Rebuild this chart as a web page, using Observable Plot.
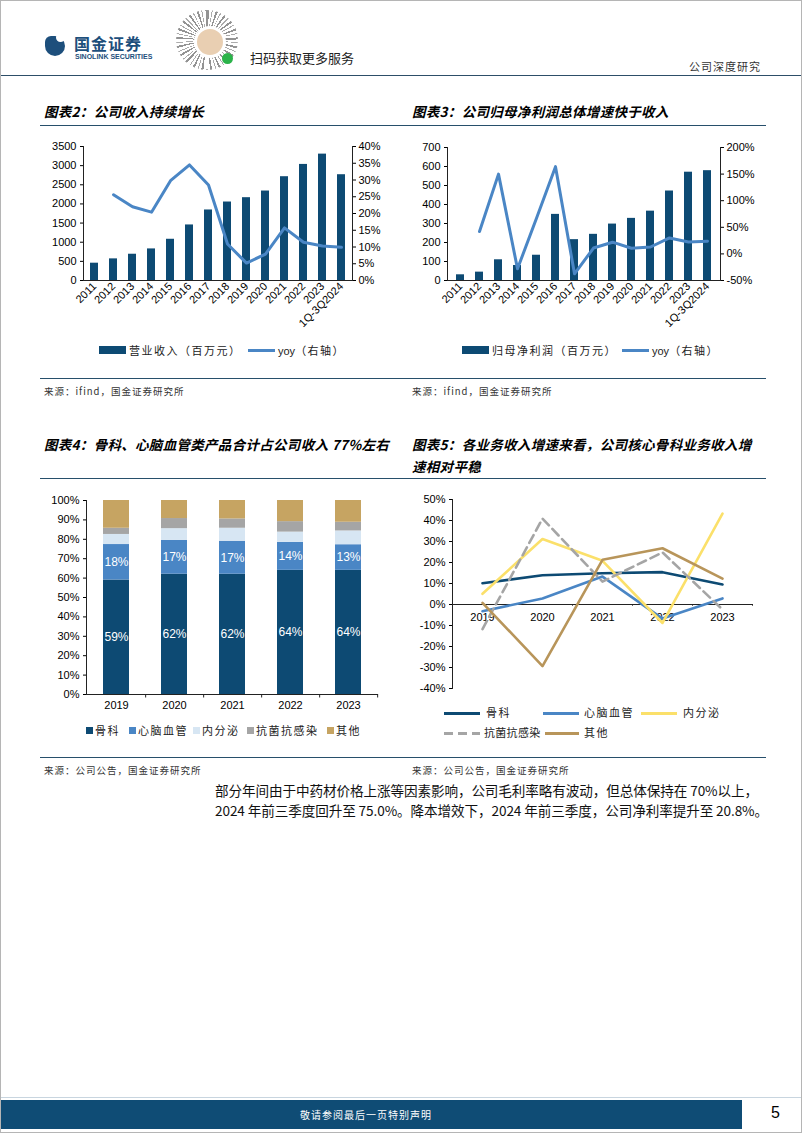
<!DOCTYPE html>
<html><head><meta charset="utf-8">
<script src="https://cdn.jsdelivr.net/npm/d3@7"></script>
<script src="https://cdn.jsdelivr.net/npm/@observablehq/plot@0.6"></script>
<style>
html,body{margin:0;padding:0}
body{width:802px;height:1133px;position:relative;background:#fff;font-family:"Noto Sans CJK SC","Noto Sans",sans-serif;overflow:hidden;color:#000}
.a{position:absolute;white-space:nowrap}
.title{font-size:13.5px;font-weight:bold;font-style:italic;letter-spacing:0.3px}
.src{font-size:9.5px;color:#333;letter-spacing:1px}
.hl{position:absolute;height:0;border-top:1.5px solid #274f6b}
.leg{font-size:11px;letter-spacing:1.5px;color:#222}
.sw{position:absolute}
svg{overflow:visible}
</style></head><body>
<div class="a" style="left:0;top:0;width:800px;height:1131px;border:1px solid #b5b5b5"></div>
<!-- header -->
<div class="a" style="left:45px;top:36px;width:20px;height:20px;border-radius:6px 10px 10px 10px;background:#1d4f7c"></div>
<div class="a" style="left:56px;top:33px;width:9px;height:9px;border-radius:50%;background:#fff"></div>
<div class="a" style="left:74px;top:35px;font-size:16px;line-height:16px;font-weight:bold;color:#1d4f7c;letter-spacing:1px">国金证券</div>
<div class="a" style="left:75px;top:53px;font-size:7px;line-height:7px;font-weight:bold;color:#1d4f7c;font-family:'Liberation Sans',Arial">SINOLINK SECURITIES</div>
<div class="a" style="left:176px;top:10px;width:62px;height:60px;border-radius:50%;background:repeating-conic-gradient(#666 0 4deg,#fff 4deg 9deg,#888 9deg 11deg,#fff 11deg 17deg),#fff;opacity:0.7"></div>
<div class="a" style="left:194px;top:26px;width:26px;height:26px;border-radius:50%;background:#e9cfb2;border:3px solid #fff"></div>
<div class="a" style="left:222px;top:53px;width:11px;height:11px;border-radius:50%;background:#2bb34a"></div>
<div class="a" style="left:250px;top:48px;font-size:13px;color:#222">扫码获取更多服务</div>
<div class="a" style="left:689px;top:58px;font-size:11px;color:#333;letter-spacing:1px">公司深度研究</div>
<div class="hl" style="left:1px;width:800px;top:75px;border-top:1.5px solid #2d4e68"></div>

<!-- titles row 1 -->
<div class="a title" style="left:44px;top:101px">图表2：公司收入持续增长</div>
<div class="a title" style="left:412px;top:101px">图表3：公司归母净利润总体增速快于收入</div>
<div class="hl" style="left:40px;width:726px;top:125px"></div>

<div id="c2" class="a" style="left:40px;top:136px;width:350px;height:200px"></div>
<div id="c3" class="a" style="left:410px;top:136px;width:350px;height:200px"></div>

<div class="sw" style="left:99px;top:346px;width:27px;height:8px;background:#0d4a73"></div>
<div class="a leg" style="left:129px;top:342px">营业收入（百万元）</div>
<div class="sw" style="left:248px;top:349px;width:27px;height:3px;background:#4a86c5"></div>
<div class="a leg" style="left:278px;top:342px"><span style="font-family:'Liberation Sans',Arial;letter-spacing:0">yoy</span>（右轴）</div>

<div class="sw" style="left:462px;top:346px;width:27px;height:8px;background:#0d4a73"></div>
<div class="a leg" style="left:492px;top:342px">归母净利润（百万元）</div>
<div class="sw" style="left:622px;top:349px;width:27px;height:3px;background:#4a86c5"></div>
<div class="a leg" style="left:652px;top:342px"><span style="font-family:'Liberation Sans',Arial;letter-spacing:0">yoy</span>（右轴）</div>

<div class="hl" style="left:40px;width:726px;top:378px;border-top:1px solid #274f6b"></div>
<div class="a src" style="left:44px;top:384px">来源：ifind，国金证券研究所</div>
<div class="a src" style="left:412px;top:384px">来源：ifind，国金证券研究所</div>

<!-- titles row 2 -->
<div class="a title" style="left:44px;top:434px">图表4：骨科、心脑血管类产品合计占公司收入 77%左右</div>
<div class="a title" style="left:412px;top:434px">图表5：各业务收入增速来看，公司核心骨科业务收入增</div>
<div class="a title" style="left:412px;top:456px">速相对平稳</div>
<div class="hl" style="left:40px;width:726px;top:478px"></div>

<div id="c4" class="a" style="left:40px;top:490px;width:345px;height:228px"></div>
<div id="c5" class="a" style="left:410px;top:489px;width:350px;height:209px"></div>

<!-- legend chart 4 -->
<div class="sw" style="left:86px;top:727px;width:7px;height:7px;background:#0d4a73"></div>
<div class="a leg" style="left:95px;top:722px">骨科</div>
<div class="sw" style="left:129px;top:727px;width:7px;height:7px;background:#4a86c5"></div>
<div class="a leg" style="left:138px;top:722px">心脑血管</div>
<div class="sw" style="left:193px;top:727px;width:7px;height:7px;background:#d7e6f3"></div>
<div class="a leg" style="left:202px;top:722px">内分泌</div>
<div class="sw" style="left:247px;top:727px;width:7px;height:7px;background:#a5a5a5"></div>
<div class="a leg" style="left:256px;top:722px">抗菌抗感染</div>
<div class="sw" style="left:327px;top:727px;width:7px;height:7px;background:#c6a462"></div>
<div class="a leg" style="left:336px;top:722px">其他</div>

<!-- legend chart 5 -->
<div class="sw" style="left:444px;top:712px;width:36px;height:3px;background:#0d4a73"></div>
<div class="a leg" style="left:486px;top:704px">骨科</div>
<div class="sw" style="left:543px;top:712px;width:36px;height:3px;background:#4a86c5"></div>
<div class="a leg" style="left:584px;top:704px">心脑血管</div>
<div class="sw" style="left:641px;top:712px;width:36px;height:3px;background:#fbe06a"></div>
<div class="a leg" style="left:683px;top:704px">内分泌</div>
<div class="sw" style="left:444px;top:732px;width:36px;height:3px;background:repeating-linear-gradient(90deg,#a5a5a5 0 9px,transparent 9px 14px)"></div>
<div class="a leg" style="left:484px;top:724px;letter-spacing:0.3px">抗菌抗感染</div>
<div class="sw" style="left:545px;top:732px;width:34px;height:3px;background:#b8955a"></div>
<div class="a leg" style="left:584px;top:724px">其他</div>

<div class="hl" style="left:40px;width:726px;top:757px;border-top:1px solid #274f6b"></div>
<div class="a src" style="left:44px;top:763px">来源：公司公告，国金证券研究所</div>
<div class="a src" style="left:412px;top:763px">来源：公司公告，国金证券研究所</div>

<div class="a" style="left:215px;top:780px;font-size:13.6px;line-height:20px;color:#111;letter-spacing:-0.1px">部分年间由于中药材价格上涨等因素影响，公司毛利率略有波动，但总体保持在 70%以上，<br>2024 年前三季度回升至 75.0%。降本增效下，2024 年前三季度，公司净利率提升至 20.8%。</div>

<!-- footer -->
<div class="hl" style="left:1px;width:800px;top:1097px;border-top:1px solid #c8d5df"></div>
<div class="a" style="left:1px;top:1100px;width:741px;height:29px;background:#0f4c75"></div>
<div class="a" style="left:300px;top:1107px;font-size:10px;color:#fff;letter-spacing:1px">敬请参阅最后一页特别声明</div>
<div class="a" style="left:771px;top:1104px;font-size:16px;font-family:'Liberation Sans',Arial">5</div>

<script>
// ---------- data ----------
const periods = ["2011","2012","2013","2014","2015","2016","2017","2018","2019","2020","2021","2022","2023","1Q-3Q2024"];
const revenue = [452,565,686,825,1077,1451,1842,2050,2163,2337,2711,3032,3301,2763];
const revenueYoy = [null,25.6,22.0,20.4,29.8,34.5,28.5,10.9,5.2,7.9,15.7,11.4,10.3,9.9];
const netProfit = [30,44,109,79,133,348,215,243,297,327,365,471,570,578];
const netProfitYoy = [null,42,150,-28,67,164,-37.5,11,22,10.6,13,30,22.5,23.7];

const revTicks = [0,500,1000,1500,2000,2500,3000,3500];
const revYoyTicks = [0,5,10,15,20,25,30,35,40];
const npTicks = [0,100,200,300,400,500,600,700];
const npYoyTicks = [-50,0,50,100,150,200];

const years = ["2019","2020","2021","2022","2023"];
const segments = ["骨科","心脑血管","内分泌","抗菌抗感染","其他"];
const shareGuke = [59,62,62,64,64];
const shareXinnao = [18.3,17.4,17.0,14.4,13.2];
const shareNeifenmi = [5.2,6.1,6.7,5.3,7.1];
const shareKangjun = [3.2,5.2,4.8,5.4,4.5];
const shareOther = [14.3,9.3,9.5,10.9,11.2];
const shareTicks = [0,10,20,30,40,50,60,70,80,90,100];

const yoyGuke = [10.1,13.9,14.9,15.4,9.5];
const yoyXinnao = [-3.2,2.9,13.3,-6.7,2.9];
const yoyNeifenmi = [5.1,31.2,20.8,-8.8,43.3];
const yoyKangjun = [-11.7,40.9,10.9,24.8,-2.4];
const yoyOther = [0.8,-29.3,21.3,26.8,12.3];
const growthTicks = [-40,-30,-20,-10,0,10,20,30,40,50];

const segColors = ["#0d4a73","#4a86c5","#d7e6f3","#a5a5a5","#c6a462"];
const lineColors = ["#0d4a73","#4a86c5","#fbe06a","#a5a5a5","#b8955a"];

// ---------- helpers ----------
const baseStyle = {fontFamily:"'Liberation Sans', Arial, sans-serif", fontSize:"11px", color:"#000", background:"transparent", overflow:"visible"};
const pct = d => d + "%";
const plain = d => String(d);

function dual(el, cats, bars, yoy, yTicks, rTicks, ml, mr, mt) {
  const W = 350, H = 200, mb = 56;
  const table = cats.map((c, i) => ({c, v: bars[i], r: yoy[i]}));
  const xs = {type: "band", domain: cats, paddingInner: 0.6, paddingOuter: 0.2};
  const p1 = Plot.plot({
    width: W, height: H, marginTop: mt, marginBottom: mb, marginLeft: ml, marginRight: mr,
    style: baseStyle, x: {...xs}, y: {domain: [yTicks[0], yTicks[yTicks.length-1]]},
    marks: [
      Plot.barY(table, {x: "c", y: "v", fill: "#0d4a73"}),
      Plot.ruleY([0], {stroke: "#222"}),
      Plot.frame({anchor: "left", stroke: "#222"}),
      Plot.axisY(yTicks, {tickSize: 3, tickPadding: 4, tickFormat: plain, label: null, fontSize: 11}),
      Plot.axisX({tickRotate: -45, tickSize: 0, tickPadding: 4, label: null, fontSize: 11})
    ]
  });
  const p2 = Plot.plot({
    width: W, height: H, marginTop: mt, marginBottom: mb, marginLeft: ml, marginRight: mr,
    style: baseStyle, x: {...xs, axis: null}, y: {domain: [rTicks[0], rTicks[rTicks.length-1]]},
    marks: [
      Plot.line(table.filter(d => d.r != null), {x: "c", y: "r", stroke: "#4a86c5", strokeWidth: 3, strokeLinejoin: "round"}),
      Plot.frame({anchor: "right", stroke: "#222"}),
      Plot.axisY(rTicks, {anchor: "right", tickSize: 3, tickPadding: 3, tickFormat: pct, label: null, fontSize: 11})
    ]
  });
  p2.style.position = "absolute"; p2.style.left = "0"; p2.style.top = "0";
  p1.style.position = "absolute"; p1.style.left = "0"; p1.style.top = "0";
  const box = document.getElementById(el);
  box.appendChild(p1); box.appendChild(p2);
}

dual("c2", periods, revenue, revenueYoy, revTicks, revYoyTicks, 43, 38, 10);
dual("c3", periods, netProfit, netProfitYoy, npTicks, npYoyTicks, 37, 40, 11);

// ---------- chart 4 ----------
(function() {
  const W = 345, H = 228, ml = 46, mr = 7, mt = 10, mb = 24;
  const shares = [shareGuke, shareXinnao, shareNeifenmi, shareKangjun, shareOther];
  const long = [];
  years.forEach((y, i) => segments.forEach((s, j) => long.push({year: y, seg: s, v: shares[j][i],
    label: j < 2 ? Math.round(shares[j][i]) + "%" : ""})));
  const pi = 0.55, po = 0.28;
  const step = (W - ml - mr) / (years.length - pi + 2 * po);
  const p = Plot.plot({
    width: W, height: H, marginTop: mt, marginBottom: mb, marginLeft: ml, marginRight: mr,
    style: baseStyle,
    x: {type: "band", domain: years, paddingInner: pi, paddingOuter: po},
    y: {domain: [0, 100]},
    color: {domain: segments, range: segColors},
    marks: [
      Plot.barY(long, {x: "year", y: "v", fill: "seg"}),
      Plot.text(long, Plot.stackY({x: "year", y: "v", z: "seg", text: "label", fill: "white", fontSize: 12})),
      Plot.ruleY([0], {stroke: "#222"}),
      Plot.ruleX(years, {x: d => d, y1: 0, y2: -1.8, dx: step / 2, stroke: "#222"}),
      Plot.frame({anchor: "left", stroke: "#222"}),
      Plot.axisY(shareTicks, {tickSize: 3, tickPadding: 4, tickFormat: pct, label: null, fontSize: 11}),
      Plot.axisX({tickSize: 0, tickPadding: 7, label: null, fontSize: 11})
    ]
  });
  document.getElementById("c4").appendChild(p);
})();

// ---------- chart 5 ----------
(function() {
  const W = 350, H = 209, ml = 42, mr = 8, mt = 10, mb = 10;
  const step = (W - ml - mr) / years.length;
  const series = [yoyGuke, yoyXinnao, yoyNeifenmi, yoyKangjun, yoyOther];
  const p = Plot.plot({
    width: W, height: H, marginTop: mt, marginBottom: mb, marginLeft: ml, marginRight: mr,
    style: baseStyle,
    x: {type: "band", domain: years, padding: 0, axis: null},
    y: {domain: [-40, 50]},
    marks: [
      Plot.frame({anchor: "left", stroke: "#222"}),
      Plot.axisY(growthTicks, {tickSize: 3, tickPadding: 4, tickFormat: pct, label: null, fontSize: 11}),
      Plot.text(years, {x: d => d, y: () => 0, dy: 13, text: d => d, fontSize: 11}),
      Plot.ruleY([0], {stroke: "#222"}),
      Plot.ruleX(years, {x: d => d, y1: 0, y2: -0.8, dx: step / 2, stroke: "#222"}),
      ...series.map((arr, j) => Plot.line(years.map((y, i) => ({y, v: arr[i]})), {
        x: "y", y: "v", stroke: lineColors[j], strokeWidth: 2.6, strokeLinejoin: "round",
        strokeDasharray: j === 3 ? "9,5" : null
      }))
    ]
  });
  document.getElementById("c5").appendChild(p);
})();
</script>
</body></html>
